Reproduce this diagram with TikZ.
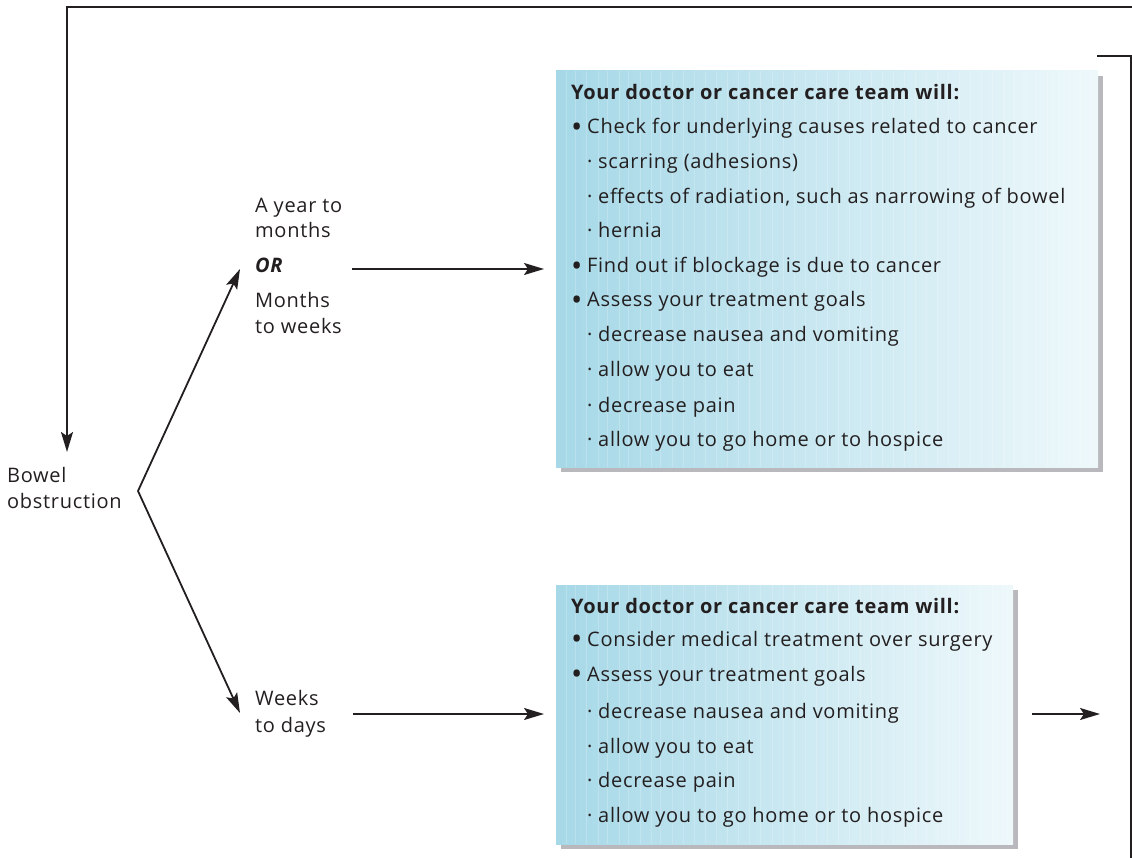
\documentclass[tikz,border=0pt]{standalone}
\usepackage{fontspec}
\setmainfont{Open Sans}[LetterSpace=3.5]
\usetikzlibrary{arrows.meta}
\definecolor{ink}{HTML}{231F20}
\definecolor{boxL}{HTML}{A6D8E7}
\definecolor{boxR}{HTML}{EEF8FB}
\definecolor{shadowc}{HTML}{B9B9BD}
\newcommand\bitm{\makebox[16pt][l]{\raisebox{-3.2pt}{\scalebox{1.5}{\textbullet}}}}
\newcommand\sitm{\hspace{16pt}\makebox[11pt][l]{·}}
\begin{document}
\begin{tikzpicture}[x=1pt,y=-1pt,
  txt/.style={inner sep=0pt,anchor=base west,text=ink,font=\fontsize{20}{24}\selectfont},
  conn/.style={draw=ink,line width=1.8pt},
  arr/.style={conn,-{Stealth[length=20pt,width=12pt,inset=4pt]}},
  shadowbox/.style={fill=shadowc,draw=none},
  infobox/.style={left color=boxL,right color=boxR,draw=none}]
\useasboundingbox (0,0) rectangle (1132,858);

% boxes
\fill[shadowbox] (561,76) rectangle (1103,472);
\path[infobox] (556,71) rectangle (1098,467);
\fill[shadowbox] (561,590) rectangle (1018,849);
\path[infobox] (556,585) rectangle (1013,844);
\foreach \x in {566,575,586,598,607,619,628,640,651,660,672,683,694,705,716,727,738,749,760,772,783,794,805,816,827,838,849,860,871,882,893,904,915,926,937,948,959,970,981,992,1003} {
  \draw[white,opacity=0.2,line width=0.6pt] (\x,585) -- (\x,844);
}
\foreach \x in {566,575,586,598,607,619,628,640,651,660,672,683,694,705,716,727,738,749,760,772,783,794,805,816,827,838,849,860,871,882,893,904,915,926,937,948,959,970,981,992,1003,1014,1025,1036,1047,1058,1069,1080,1090} {
  \draw[white,opacity=0.2,line width=0.6pt] (\x,71) -- (\x,467);
}

% upper box text
\node[txt] (u0) at (571,100) {\bfseries Your doctor or cancer care team will:};
\node[txt] (u1) at (571,134) {\bitm Check for underlying causes related to cancer};
\node[txt] (u2) at (571,169) {\sitm scarring (adhesions)};
\node[txt] (u3) at (571,204) {\sitm effects of radiation, such as narrowing of bowel};
\node[txt] (u4) at (571,238) {\sitm hernia};
\node[txt] (u5) at (571,273) {\bitm Find out if blockage is due to cancer};
\node[txt] (u6) at (571,307) {\bitm Assess your treatment goals};
\node[txt] (u7) at (571,342) {\sitm decrease nausea and vomiting};
\node[txt] (u8) at (571,377) {\sitm allow you to eat};
\node[txt] (u9) at (571,412) {\sitm decrease pain};
\node[txt] (u10) at (571,446) {\sitm allow you to go home or to hospice};

% lower box text
\node[txt] (l0) at (571,613) {\bfseries Your doctor or cancer care team will:};
\node[txt] (l1) at (571,646) {\bitm Consider medical treatment over surgery};
\node[txt] (l2) at (571,681) {\bitm Assess your treatment goals};
\node[txt] (l3) at (571,718) {\sitm decrease nausea and vomiting};
\node[txt] (l4) at (571,753) {\sitm allow you to eat};
\node[txt] (l5) at (571,787) {\sitm decrease pain};
\node[txt] (l6) at (571,822) {\sitm allow you to go home or to hospice};

% left labels
\node[txt] (bo1) at (7,482) {Bowel};
\node[txt] (bo2) at (7,508) {obstruction};
\node[txt] (a1) at (255,213) {A year to};
\node[txt] (a2) at (255,238) {months};
\node[txt] (a3) at (255,273) {\bfseries\itshape OR};
\node[txt] (a4) at (255,308) {Months};
\node[txt] (a5) at (255,334) {to weeks};
\node[txt] (w1) at (255,705) {Weeks};
\node[txt] (w2) at (255,732) {to days};

% connectors
\coordinate (topR) at (1133,7);
\coordinate (topL) at (67,7);
\coordinate (downEnd) at (67,452);
\coordinate (apex) at (138,491);
\coordinate (upTip) at (240,269);
\coordinate (lowTip) at (240,713);
\coordinate (uaS) at (352,269);
\coordinate (uaE) at (544,269);
\coordinate (laS) at (353,714);
\coordinate (laE) at (544,714);
\coordinate (raS) at (1032,714);
\coordinate (raE) at (1100,714);
\coordinate (brA) at (1097,56);
\coordinate (brB) at (1131,56);
\coordinate (brC) at (1131,859);

\draw[arr,line join=miter] (topR) -- (topL) -- (downEnd);
\draw[arr] (apex) -- (upTip);
\draw[arr] (apex) -- (lowTip);
\draw[arr] (uaS) -- (uaE);
\draw[arr] (laS) -- (laE);
\draw[arr] (raS) -- (raE);
\draw[conn,line join=miter] (brA) -- (brB) -- (brC);
\end{tikzpicture}
\end{document}
